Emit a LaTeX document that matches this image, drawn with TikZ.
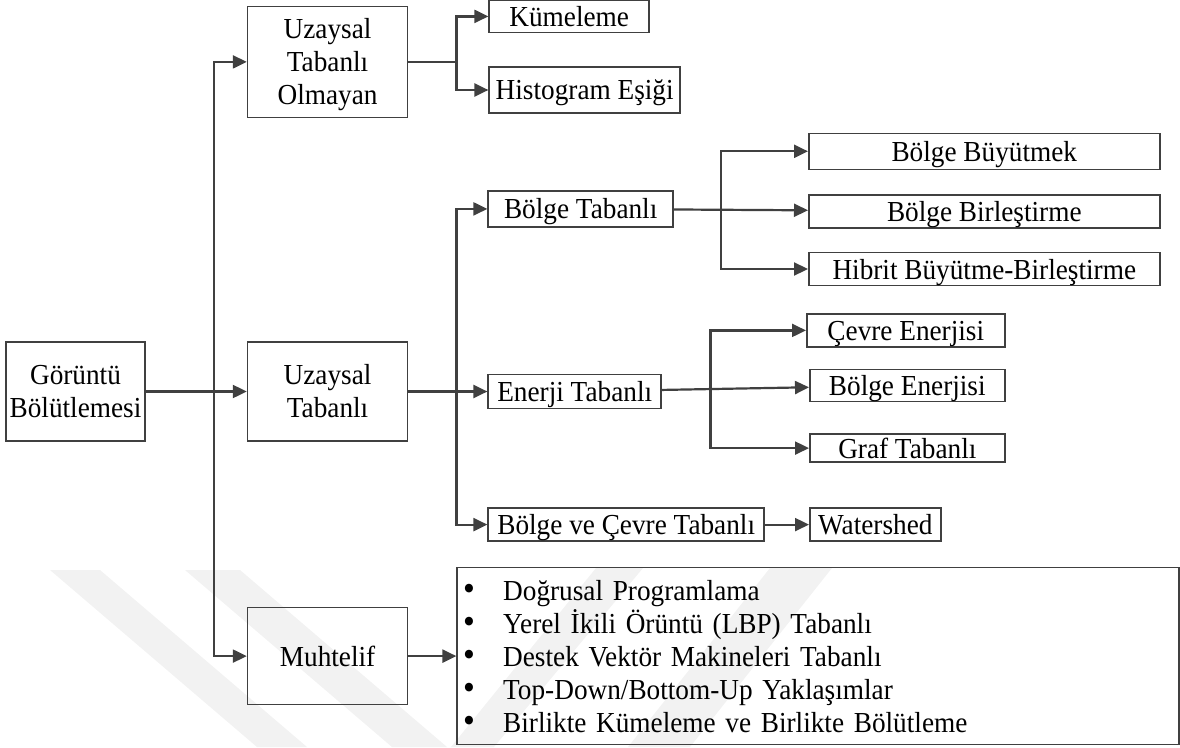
\documentclass[tikz,border=0pt]{standalone}
\usepackage{fontspec}
\setmainfont[FakeStretch=0.94]{Liberation Serif}
\usepackage{xcolor}
\usetikzlibrary{arrows.meta, positioning}
\definecolor{linegray}{HTML}{404040}
\definecolor{markgray}{HTML}{F2F2F2}
\newcommand{\madde}{\makebox[40pt][l]{\smash{\fontsize{36}{33}\selectfont\textbullet}}}
\tikzset{
  box/.style={draw=linegray, line width=1.6pt, inner sep=0pt, text depth=0pt, font=\fontsize{29}{33.5}\selectfont},
  mbox/.style={box, align=center, text depth=, font=\fontsize{29}{33}\selectfont},
  arr/.style={draw=linegray, line width=2.2pt, -{Triangle[length=14pt,width=13pt]}},
  link/.style={draw=linegray, line width=2.2pt},
}
\begin{document}
\begin{tikzpicture}[x=1pt,y=-1pt]
\useasboundingbox (0,0) rectangle (1180,747);
\fill[markgray] (50,570) -- (100,570) -- (307,747) -- (257,747) -- cycle;
\fill[markgray] (185,570) -- (240,570) -- (447,747) -- (392,747) -- cycle;
\fill[markgray] (451,747) -- (494,747) -- (643,568) -- (596,568) -- cycle;
\fill[markgray] (628,747) -- (690,747) -- (832,568) -- (770,568) -- cycle;
\node[mbox, minimum width=139pt, minimum height=99pt] (root) at (75.5,391.5) {Görüntü\\Bölütlemesi};
\node[mbox, minimum width=160pt, minimum height=99pt, right=101pt of root] (u2) {Uzaysal\\Tabanlı};
\node[mbox, minimum width=160pt, minimum height=111pt, above=223pt of u2] (u1) {Uzaysal\\Tabanlı\\\smash{Olmayan}};
\node[box, minimum width=160pt, minimum height=97pt, below=165pt of u2] (u3) {Muhtelif};
\coordinate[right=68.5pt of root.east] (ja);
\draw[arr] (root) -- (u2);
\draw[arr] (ja) |- (u1);
\draw[arr] (ja) |- (u3);
\coordinate[right=48pt of u1.east] (jb);
\node[box, minimum width=160pt, minimum height=32pt, right=32pt of jb, yshift=45.5pt] (k1) {Kümeleme};
\node[box, minimum width=191pt, minimum height=46pt, below=33pt of k1.south west, anchor=north west] (k2) {Histogram Eşiği};
\draw[link] (u1) -- (jb);
\draw[arr] (jb) |- (k1);
\draw[arr] (jb) |- (k2);
\coordinate[right=48pt of u2.east] (jc);
\node[box, minimum width=173pt, minimum height=34pt, right=79pt of u2] (e1) {Enerji Tabanlı};
\node[box, minimum width=185pt, minimum height=36pt, above=146pt of e1.north west, anchor=south west] (b1) {Bölge Tabanlı};
\node[box, minimum width=276pt, minimum height=33pt, below=98pt of e1.south west, anchor=north west] (c1) {Bölge ve Çevre Tabanlı};
\draw[arr] (u2) -- (e1);
\draw[arr] (jc) |- (b1);
\draw[arr] (jc) |- (c1);
\node[box, minimum width=351pt, minimum height=33pt, right=134pt of b1, yshift=-2.5pt] (bb2) {Bölge Birleştirme};
\node[box, minimum width=351pt, minimum height=36pt, above=24pt of bb2] (bb1) {Bölge Büyütmek};
\node[box, minimum width=351pt, minimum height=33pt, below=23pt of bb2] (bb3) {Hibrit Büyütme-Birleştirme};
\coordinate[right=47pt of b1.east] (jd);
\draw[arr] (b1) -- (bb2);
\draw[arr] (jd) |- (bb1);
\draw[arr] (jd) |- (bb3);
\node[box, minimum width=195pt, minimum height=32pt, right=147pt of e1, yshift=6pt] (be) {Bölge Enerjisi};
\node[box, minimum width=198pt, minimum height=33pt, above=21pt of be.north east, anchor=south east] (ce) {Çevre Enerjisi};
\node[box, minimum width=195pt, minimum height=28pt, below=31pt of be] (gt) {Graf Tabanlı};
\coordinate[right=48.5pt of e1.east] (je);
\draw[arr] (e1) -- (be);
\draw[arr] (je) |- (ce);
\draw[arr] (je) |- (gt);
\node[box, minimum width=131pt, minimum height=33pt, right=44pt of c1] (ws) {Watershed};
\draw[arr] (c1) -- (ws);
\node[mbox, minimum width=722pt, minimum height=177pt, right=48pt of u3, align=left, text width=710pt, inner xsep=6pt] (mb) {\madde Doğrusal Programlama\\
\madde Yerel İkili Örüntü (LBP) Tabanlı\\
\madde Destek Vektör Makineleri Tabanlı\\
\madde Top-Down/Bottom-Up Yaklaşımlar\\
\madde Birlikte Kümeleme ve Birlikte Bölütleme};
\draw[arr] (u3) -- (mb);
\end{tikzpicture}
\end{document}
